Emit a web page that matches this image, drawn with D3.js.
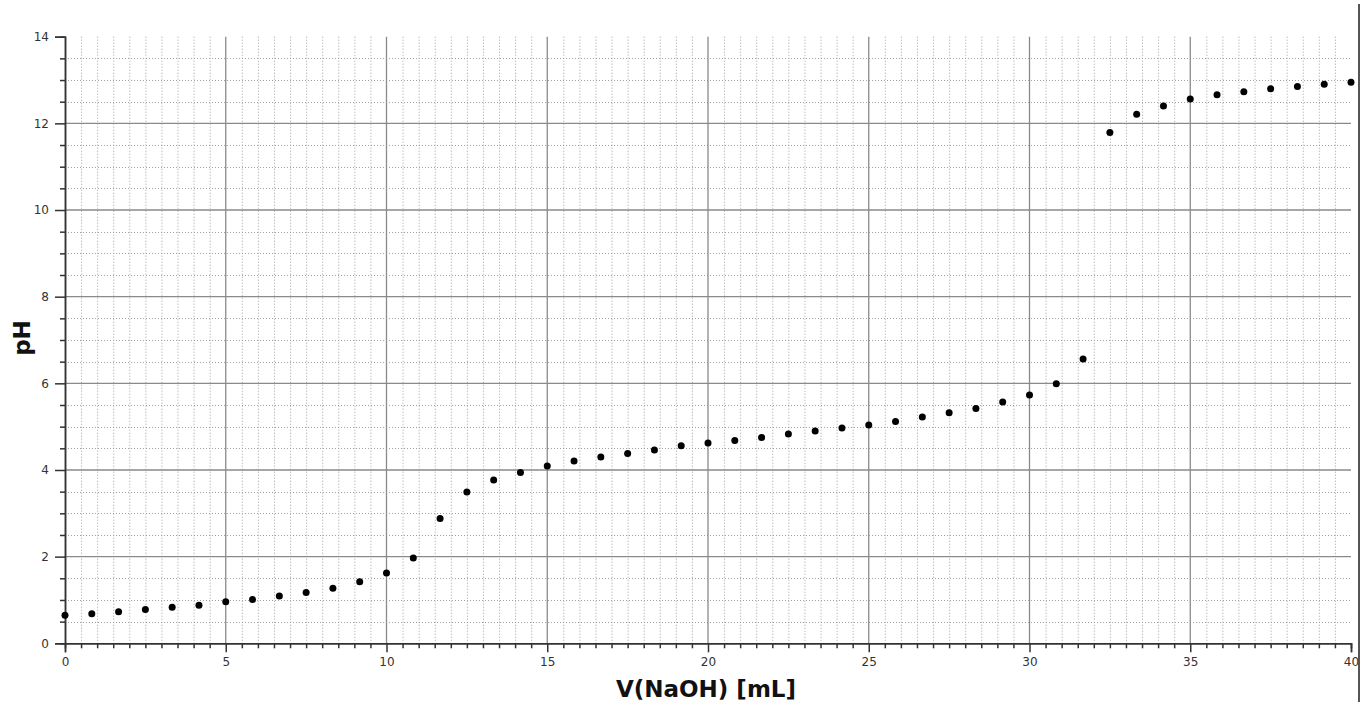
<!DOCTYPE html>
<html><head><meta charset="utf-8">
<script src="https://cdn.jsdelivr.net/npm/d3@7"></script>
<style>body{margin:0;background:#fff;} svg{display:block;}</style>
</head><body>
<svg id="c" width="1369" height="702"></svg>
<script>
const volumes = d3.range(49).map(i => i * 40 / 48);
const phValues = [0.65,0.68,0.73,0.78,0.83,0.88,0.96,1.01,1.09,1.17,1.27,1.42,1.62,1.97,
  2.88,3.49,3.77,3.94,4.09,4.21,4.30,4.38,4.46,4.56,4.62,4.68,4.75,4.83,4.90,4.97,5.04,
  5.12,5.22,5.32,5.42,5.57,5.73,5.99,6.56,11.79,12.21,12.40,12.56,12.66,12.73,12.80,12.85,12.90,12.95];
const xMajorTicks = [0,5,10,15,20,25,30,35,40];
const yMajorTicks = [0,2,4,6,8,10,12,14];
const xTitle = "V(NaOH) [mL]";
const yTitle = "pH";

const svg = d3.select("#c");
const x = d3.scaleLinear().domain([0,40]).range([65,1351]);
const y = d3.scaleLinear().domain([0,14]).range([643.3,36.7]);
const xMinor = d3.range(0,40.001,0.5);
const yMinor = d3.range(0,14.001,0.5);

// minor dotted grid
svg.append("g").selectAll("line").data(xMinor.filter(v=>v%5!==0)).join("line")
  .attr("x1",d=>x(d)+0.5).attr("x2",d=>x(d)+0.5).attr("y1",y(14)).attr("y2",y(0))
  .attr("stroke","#a0a0a0").attr("stroke-width",1).attr("stroke-dasharray","1,2");
svg.append("g").selectAll("line").data(yMinor.filter(v=>v%2!==0)).join("line")
  .attr("y1",d=>Math.round(y(d))+0.5).attr("y2",d=>Math.round(y(d))+0.5).attr("x1",x(0)).attr("x2",x(40))
  .attr("stroke","#a0a0a0").attr("stroke-width",1).attr("stroke-dasharray","1,2");
// major grid
svg.append("g").selectAll("line").data(xMajorTicks.filter(v=>v>0&&v<40)).join("line")
  .attr("x1",d=>x(d)).attr("x2",d=>x(d)).attr("y1",y(14)).attr("y2",y(0))
  .attr("stroke","#8a8a8a").attr("stroke-width",1.3);
svg.append("g").selectAll("line").data(yMajorTicks.filter(v=>v>0&&v<14)).join("line")
  .attr("y1",d=>y(d)).attr("y2",d=>y(d)).attr("x1",x(0)).attr("x2",x(40))
  .attr("stroke","#8a8a8a").attr("stroke-width",1.3);

// axes
const fontTicks = "'DejaVu Sans', Verdana, sans-serif";
const xAxis = svg.append("g").attr("transform",`translate(0,${y(0)})`)
  .call(d3.axisBottom(x).tickValues(xMajorTicks).tickFormat(d3.format("d")).tickSize(9).tickPadding(5));
const xAxisMinor = svg.append("g").attr("transform",`translate(0,${y(0)})`)
  .call(d3.axisBottom(x).tickValues(xMinor.filter(v=>v%5!==0)).tickFormat("").tickSize(5));
const yAxis = svg.append("g").attr("transform",`translate(${x(0)},0)`)
  .call(d3.axisLeft(y).tickValues(yMajorTicks).tickFormat(d3.format("d")).tickSize(10).tickPadding(6));
const yAxisMinor = svg.append("g").attr("transform",`translate(${x(0)},0)`)
  .call(d3.axisLeft(y).tickValues(yMinor.filter(v=>v%2!==0)).tickFormat("").tickSize(5));
[xAxis,xAxisMinor,yAxis,yAxisMinor].forEach(g=>{
  g.select(".domain").attr("stroke","#333").attr("stroke-width",1.5);
  g.selectAll(".tick line").attr("stroke","#333").attr("stroke-width",1.5);
  g.selectAll("text").attr("fill","#333").style("font-family",fontTicks).style("font-size","12px");
});

// right border
svg.append("line").attr("x1",1359).attr("x2",1359).attr("y1",4).attr("y2",702)
  .attr("stroke","#555").attr("stroke-width",2);

// points
svg.append("g").selectAll("circle").data(volumes.map((v,i)=>[v,phValues[i]])).join("circle")
  .attr("cx",d=>x(d[0])).attr("cy",d=>y(d[1])).attr("r",3.5).attr("fill","#000");

// titles
svg.append("text").attr("x",706).attr("y",697).attr("text-anchor","middle")
  .style("font-family","'DejaVu Sans', Verdana, sans-serif").style("font-weight","bold").style("font-size","23px")
  .attr("fill","#111").text(xTitle);
svg.append("text").attr("transform","translate(30,338) rotate(-90)").attr("text-anchor","middle")
  .style("font-family","'DejaVu Sans', Verdana, sans-serif").style("font-weight","bold").style("font-size","23px")
  .attr("fill","#111").text(yTitle);
</script>
</body></html>
